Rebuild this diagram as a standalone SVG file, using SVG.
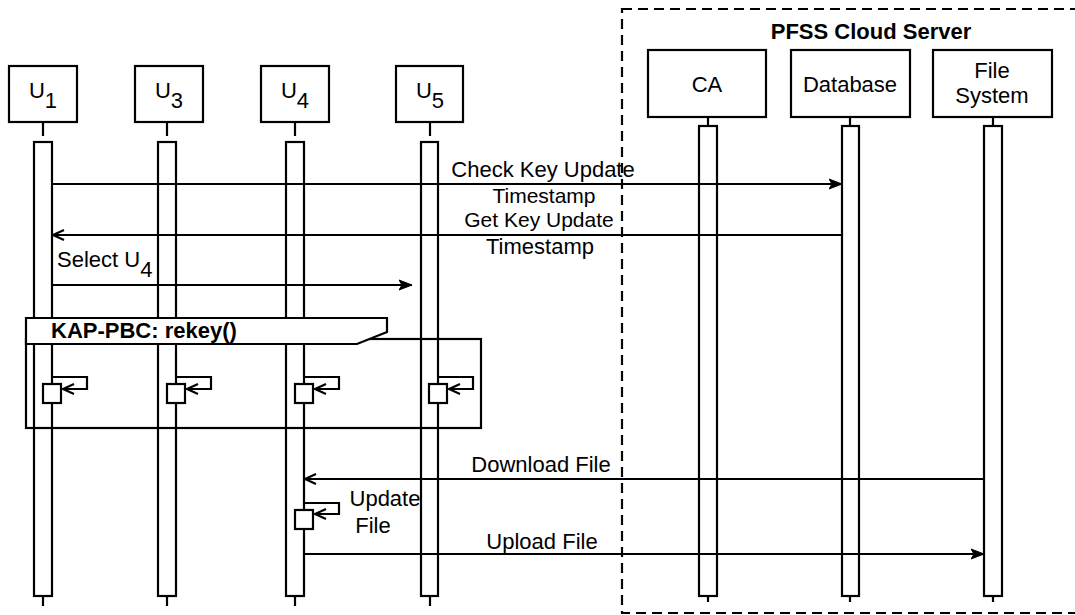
<svg xmlns="http://www.w3.org/2000/svg" width="1075" height="615" viewBox="0 0 1075 615">
<style>
  .box{fill:#fff;stroke:#000;stroke-width:2.2}
  .bar{fill:#fff;stroke:#000;stroke-width:2.2}
  .ln{fill:none;stroke:#000;stroke-width:2.2}
  .t{font-family:"Liberation Sans",Arial,Helvetica,sans-serif;font-size:22px;fill:#000}
  .s{font-size:21px}
  .b{font-family:"Liberation Sans",Arial,Helvetica,sans-serif;font-weight:bold;fill:#000}
  .dash{fill:none;stroke:#000;stroke-width:2.2;stroke-dasharray:10 6}
</style>
<defs>
  <marker id="block" markerUnits="userSpaceOnUse" markerWidth="14" markerHeight="12" viewBox="0 0 14 12" refX="13" refY="6" orient="auto">
    <path d="M0,1 L13,6 L0,11 L3,6 Z" fill="#000" stroke="#000" stroke-width="1"/>
  </marker>
  <marker id="open" markerUnits="userSpaceOnUse" markerWidth="14" markerHeight="14" viewBox="0 0 14 14" refX="12" refY="7" orient="auto">
    <path d="M1,2 L12,7 L1,12" fill="none" stroke="#000" stroke-width="2.2"/>
  </marker>
</defs>

<!-- lifeline stubs -->
<g id="stubs" class="ln">
  <path d="M43,122V136M43,596V606"/>
  <path d="M167,122V136M167,596V606"/>
  <path d="M295,122V136M295,596V606"/>
  <path d="M430,122V136M430,596V606"/>
  <path d="M708,117V126M708,596V602"/>
  <path d="M850,117V126M850,596V602"/>
  <path d="M993,117V126M993,596V602"/>
</g>

<g id="U1"><rect class="box" x="9" y="66" width="68" height="56"/><text class="t" x="43" y="98" text-anchor="middle">U<tspan dy="10">1</tspan></text><rect class="bar" x="34" y="142" width="18" height="454"/></g>
<g id="U3"><rect class="box" x="135" y="66" width="68" height="56"/><text class="t" x="169" y="98" text-anchor="middle">U<tspan dy="10">3</tspan></text><rect class="bar" x="158" y="142" width="18" height="454"/></g>
<g id="U4"><rect class="box" x="261" y="66" width="68" height="56"/><text class="t" x="295" y="98" text-anchor="middle">U<tspan dy="10">4</tspan></text><rect class="bar" x="286" y="142" width="18" height="454"/></g>
<g id="U5"><rect class="box" x="396" y="66" width="67" height="56"/><text class="t" x="430" y="98" text-anchor="middle">U<tspan dy="10">5</tspan></text><rect class="bar" x="421" y="142" width="17" height="454"/></g>
<g id="CA"><rect class="box" x="648" y="50" width="118" height="67"/><text class="t" x="707" y="92" text-anchor="middle">CA</text><rect class="bar" x="699" y="126" width="18" height="470"/></g>
<g id="Database"><rect class="box" x="791" y="50" width="119" height="67"/><text class="t" x="850" y="92" text-anchor="middle">Database</text><rect class="bar" x="842" y="126" width="17" height="470"/></g>
<g id="FileSystem"><rect class="box" x="933" y="50" width="119" height="67"/><text class="t" x="992" y="78" text-anchor="middle">File</text><text class="t" x="992" y="103" text-anchor="middle">System</text><rect class="bar" x="984" y="126" width="18" height="470"/></g>

<!-- KAP-PBC frame -->
<g id="frame">
  <rect class="ln" x="26" y="339" width="455" height="89"/>
  <path d="M26,318 H387 V332 L357,344 H26 Z" fill="#fff" stroke="#000" stroke-width="2.2"/>
  <text class="b" x="51" y="338" font-size="22">KAP-PBC: rekey()</text>
</g>

<!-- nested activations -->
<g id="activations" class="box">
  <rect x="43" y="384" width="18" height="19"/>
  <rect x="167" y="384" width="18" height="19"/>
  <rect x="295" y="384" width="18" height="19"/>
  <rect x="429" y="384" width="18" height="19"/>
  <rect x="295" y="510" width="18" height="19"/>
</g>

<g id="connectors" class="ln">
  <path d="M52,184 H842" marker-end="url(#block)"/>
  <path d="M842,235 H53" marker-end="url(#open)"/>
  <path d="M52,285 H412" marker-end="url(#block)"/>
  <path d="M52,377 H87 V389 H63" marker-end="url(#open)"/>
  <path d="M176,377 H211 V389 H187" marker-end="url(#open)"/>
  <path d="M304,377 H339 V389 H315" marker-end="url(#open)"/>
  <path d="M438,377 H473 V389 H449" marker-end="url(#open)"/>
  <path d="M984,479 H305" marker-end="url(#open)"/>
  <path d="M304,503 H339 V514 H315" marker-end="url(#open)"/>
  <path d="M304,554 H984" marker-end="url(#block)"/>
</g>

<g id="labels">
  <text class="t" x="543" y="177" text-anchor="middle">Check Key Update</text>
  <text class="t s" x="544" y="203" text-anchor="middle">Timestamp</text>
  <text class="t s" x="539" y="227" text-anchor="middle">Get Key Update</text>
  <text class="t" x="540" y="254" text-anchor="middle">Timestamp</text>
  <text class="t" x="57" y="267">Select U<tspan dy="10">4</tspan></text>
  <text class="t" x="541" y="472" text-anchor="middle">Download File</text>
  <text class="t" x="385" y="506" text-anchor="middle">Update</text>
  <text class="t" x="373" y="533" text-anchor="middle">File</text>
  <text class="t" x="542" y="549" text-anchor="middle">Upload File</text>
</g>

<g id="cloud">
  <rect class="dash" x="622" y="9" width="470" height="604"/>
  <text class="b" x="871" y="39" font-size="22" text-anchor="middle">PFSS Cloud Server</text>
</g>
</svg>
